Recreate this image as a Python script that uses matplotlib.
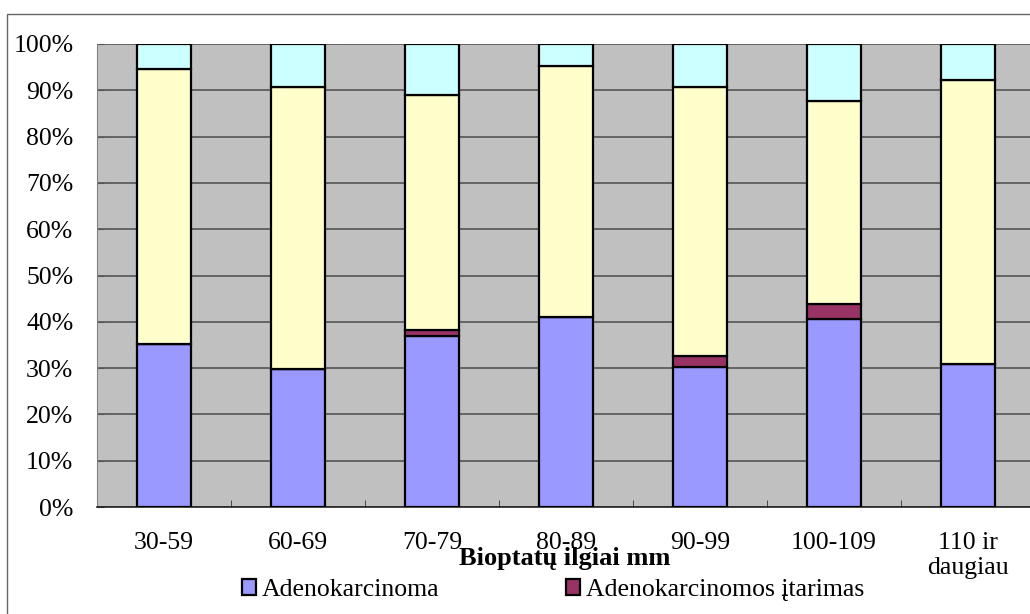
import matplotlib
matplotlib.use("Agg")
import numpy as np
from matplotlib import pyplot as plt
from matplotlib.patches import Rectangle

categories = ["30-59", "60-69", "70-79", "80-89", "90-99", "100-109", "110 ir\ndaugiau"]
adenokarcinoma = [35.2, 29.8, 37.0, 41.1, 30.3, 40.6, 30.9]
itarimas = [0.0, 0.0, 1.2, 0.0, 2.3, 3.2, 0.0]
yellow_part = [59.4, 60.9, 50.8, 54.1, 58.1, 43.9, 61.4]
cyan_part = [5.4, 9.3, 11.0, 4.8, 9.3, 12.3, 7.7]

series_names = ["Adenokarcinoma", "Adenokarcinomos įtarimas"]
colors = ["#9999FF", "#993366", "#FFFFCC", "#CCFFFF"]
y_ticks = list(range(0, 101, 10))

plt.rcParams["font.family"] = ["Liberation Serif", "DejaVu Serif"]
plt.rcParams["font.size"] = 18.5

fig = plt.figure(figsize=(10.3, 6.14), dpi=100)
ax = fig.add_axes([97 / 1030, 1 - 507 / 614, 938 / 1030, 463 / 614])
ax.set_facecolor("#C0C0C0")

x = np.arange(len(categories))
bottom = np.zeros(len(categories))
handles = []
for vals, col in zip([adenokarcinoma, itarimas, yellow_part, cyan_part], colors):
    b = ax.bar(x, vals, width=0.4, bottom=bottom, color=col,
               edgecolor="black", linewidth=1.6, zorder=3)
    handles.append(b)
    bottom = bottom + np.array(vals)

ax.set_xlim(-0.5, len(categories) - 0.5)
ax.set_ylim(0, 100)
ax.set_yticks(y_ticks)
ax.set_yticklabels([f"{v}%" for v in y_ticks])
ax.yaxis.grid(True, color="#555555", linewidth=1.2, zorder=1)
ax.tick_params(axis="y", direction="in", length=5, pad=17, color="#555555")

ax.set_xticks(x)
ax.set_xticklabels(categories, linespacing=1.2, va="top")
ax.tick_params(axis="x", which="major", length=0, pad=18)
ax.set_xticks(np.arange(len(categories) - 1) + 0.5, minor=True)
ax.tick_params(axis="x", which="minor", direction="in", length=5, color="#333333")

for s in ["top", "right"]:
    ax.spines[s].set_visible(False)
ax.spines["left"].set_color("#808080")
ax.spines["bottom"].set_color("#222222")
ax.spines["bottom"].set_linewidth(1.2)

fig.text(0.548, 1 - 559 / 614, "Bioptatų ilgiai mm", ha="center", va="center",
         fontsize=19, fontweight="bold")

leg = fig.legend([handles[0], handles[1]], series_names, ncol=2,
                 loc="center", bbox_to_anchor=(0.537, 1 - 590 / 614),
                 frameon=True, fancybox=False, edgecolor="none",
                 facecolor="white", framealpha=1, handlelength=0.55,
                 handleheight=0.55, handletextpad=0.25, columnspacing=4.9,
                 borderpad=0.05)

fig.patches.append(Rectangle((7 / 1030, -0.1), 1.2, 1 - 14 / 614 + 0.1,
                             transform=fig.transFigure, fill=False,
                             edgecolor="#666666", linewidth=1, zorder=0))

fig.savefig("out.png", dpi=100)
